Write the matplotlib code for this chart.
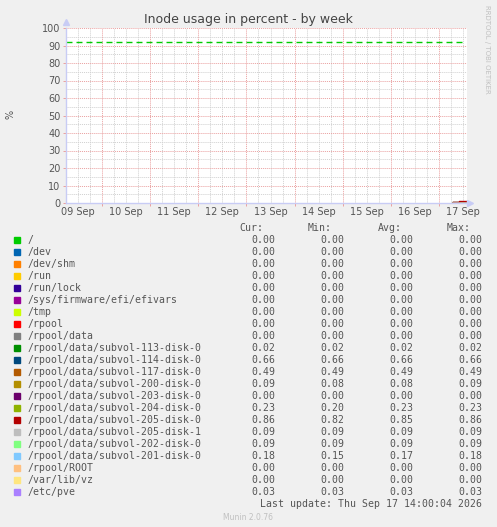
import numpy as np
import matplotlib
matplotlib.use('Agg')
import matplotlib.pyplot as plt

# hours since 09 Sep 00:00
x_start, x_end = 6, 206
day_labels = ['09 Sep', '10 Sep', '11 Sep', '12 Sep', '13 Sep',
              '14 Sep', '15 Sep', '16 Sep', '17 Sep']

names = ['/', '/dev', '/dev/shm', '/run', '/run/lock', '/sys/firmware/efi/efivars',
         '/tmp', '/rpool', '/rpool/data',
         '/rpool/data/subvol-113-disk-0', '/rpool/data/subvol-114-disk-0',
         '/rpool/data/subvol-117-disk-0', '/rpool/data/subvol-200-disk-0',
         '/rpool/data/subvol-203-disk-0', '/rpool/data/subvol-204-disk-0',
         '/rpool/data/subvol-205-disk-0', '/rpool/data/subvol-205-disk-1',
         '/rpool/data/subvol-202-disk-0', '/rpool/data/subvol-201-disk-0',
         '/rpool/ROOT', '/var/lib/vz', '/etc/pve']
colors = ['#00CC00', '#0066B3', '#FF8000', '#FFCC00', '#330099', '#990099',
          '#CCFF00', '#FF0000', '#808080', '#008F00', '#00487D', '#B35A00',
          '#B38F00', '#6B006B', '#8FB300', '#B30000', '#BEBEBE', '#80FF80',
          '#80C9FF', '#FFC080', '#FFE680', '#AA80FF']
cur  = [0.00, 0.00, 0.00, 0.00, 0.00, 0.00, 0.00, 0.00, 0.00, 0.02, 0.66,
        0.49, 0.09, 0.00, 0.23, 0.86, 0.09, 0.09, 0.18, 0.00, 0.00, 0.03]
mins = [0.00, 0.00, 0.00, 0.00, 0.00, 0.00, 0.00, 0.00, 0.00, 0.02, 0.66,
        0.49, 0.08, 0.00, 0.20, 0.82, 0.09, 0.09, 0.15, 0.00, 0.00, 0.03]
avgs = [0.00, 0.00, 0.00, 0.00, 0.00, 0.00, 0.00, 0.00, 0.00, 0.02, 0.66,
        0.49, 0.08, 0.00, 0.23, 0.85, 0.09, 0.09, 0.17, 0.00, 0.00, 0.03]
maxs = [0.00, 0.00, 0.00, 0.00, 0.00, 0.00, 0.00, 0.00, 0.00, 0.02, 0.66,
        0.49, 0.09, 0.00, 0.23, 0.86, 0.09, 0.09, 0.18, 0.00, 0.00, 0.03]

# data only exists for the last hours of the week
t_data = [199, 200, 201, 202, 203, 204, 205, 206]
trend = {
    '/rpool/data/subvol-200-disk-0': [0.08, 0.08, 0.08, 0.08, 0.08, 0.08, 0.09, 0.09],
    '/rpool/data/subvol-204-disk-0': [0.20, 0.22, 0.23, 0.23, 0.23, 0.23, 0.23, 0.23],
    '/rpool/data/subvol-205-disk-0': [0.82, 0.83, 0.85, 0.86, 0.86, 0.86, 0.86, 0.86],
    '/rpool/data/subvol-201-disk-0': [0.15, 0.16, 0.17, 0.17, 0.18, 0.18, 0.18, 0.18],
}
warn_level = 92

W, H = 497, 527
fig = plt.figure(figsize=(W / 100, H / 100), dpi=100)
fig.patch.set_facecolor('#F0F0F0')

L, R, T, B = 66, 467, 28, 203
ax = fig.add_axes([L / W, 1 - B / H, (R - L) / W, (B - T) / H])
ax.set_facecolor('white')
ax.set_xlim(x_start, x_end)
ax.set_ylim(0, 100)

# grid
for h in range(12, x_end, 6):
    if h % 24:
        ax.axvline(h, color='#d0d0d0', lw=0.7, dashes=(1, 1), zorder=1)
for v in range(5, 100, 10):
    ax.axhline(v, color='#d0d0d0', lw=0.7, dashes=(1, 1), zorder=1)
for h in range(24, x_end, 24):
    ax.axvline(h, color='#eaa0a0', lw=0.7, dashes=(1, 1), zorder=2)
for v in range(10, 101, 10):
    ax.axhline(v, color='#eaa0a0', lw=0.7, dashes=(1, 1), zorder=2)

ax.plot([x_start, 204], [warn_level, warn_level], color=colors[0], lw=1.0,
        dashes=(4.3, 2.9), zorder=3)

for i, name in enumerate(names):
    vals = trend.get(name, [cur[i]] * len(t_data))
    ax.plot(t_data, vals, color=colors[i], lw=1.0, drawstyle='steps-post', zorder=4)

for s in ['top', 'right']:
    ax.spines[s].set_visible(False)
for s in ['left', 'bottom']:
    ax.spines[s].set_color('#c8ccf5')
    ax.spines[s].set_linewidth(1.0)
    ax.spines[s].set_zorder(5)

ax.set_xticks(range(24, x_end, 24))
ax.set_xticklabels([])
ax.set_xticks([12 + 24 * k for k in range(len(day_labels))], minor=True)
ax.set_xticklabels(day_labels, minor=True)
ax.tick_params(axis='x', which='major', length=2, color='#eaa0a0', width=0.7)
ax.tick_params(axis='x', which='minor', length=0, labelsize=7, labelcolor='#555555', pad=3)
ax.set_yticks(range(0, 101, 10))
ax.tick_params(axis='y', length=2, color='#eaa0a0', width=0.7, labelsize=7,
               labelcolor='#555555', pad=2)

# axis arrows
ax.plot([x_start], [103.2], marker='^', ms=5, color='#c8ccf5', clip_on=False, zorder=6)
ax.plot([x_end + 1.6], [0], marker='>', ms=5, color='#c8ccf5', clip_on=False, zorder=6)

def px(x, y):
    return x / W, 1 - y / H

fig.text(*px(248, 19), 'Inode usage in percent - by week', ha='center', va='center',
         fontsize=9, color='#444444')
fig.text(*px(10, 114), '%', ha='center', va='center', rotation=90, fontsize=7,
         color='#555555')
fig.text(*px(487, 5), 'RRDTOOL / TOBI OETIKER', ha='center', va='top', rotation=270,
         fontsize=5, color='#c0c0c0')

mono = 'DejaVu Sans Mono'
fs = 7.1
tc = '#555555'
for x0, hdr in [(239, 'Cur:'), (308, 'Min:'), (378, 'Avg:'), (447, 'Max:')]:
    fig.text(*px(x0, 228), hdr, ha='left', va='center', family=mono, fontsize=fs, color=tc)

for i, name in enumerate(names):
    y = 240 + 12 * i
    fig.patches.append(plt.Rectangle(px(14, y + 3), 6 / W, 6 / H, transform=fig.transFigure,
                                     color=colors[i], figure=fig))
    fig.text(*px(27, y), name, ha='left', va='center', family=mono, fontsize=fs, color=tc)
    for xr, arr in [(275, cur), (344, mins), (413, avgs), (482, maxs)]:
        fig.text(*px(xr, y), '%.2f' % arr[i], ha='right', va='center', family=mono,
                 fontsize=fs, color=tc)

fig.text(*px(482, 504), 'Last update: Thu Sep 17 14:00:04 2026', ha='right', va='center',
         family=mono, fontsize=fs, color=tc)
fig.text(*px(248, 517), 'Munin 2.0.76', ha='center', va='center', fontsize=5.5,
         color='#c0c0c0')

fig.savefig('out.png', dpi=100, facecolor=fig.get_facecolor())
